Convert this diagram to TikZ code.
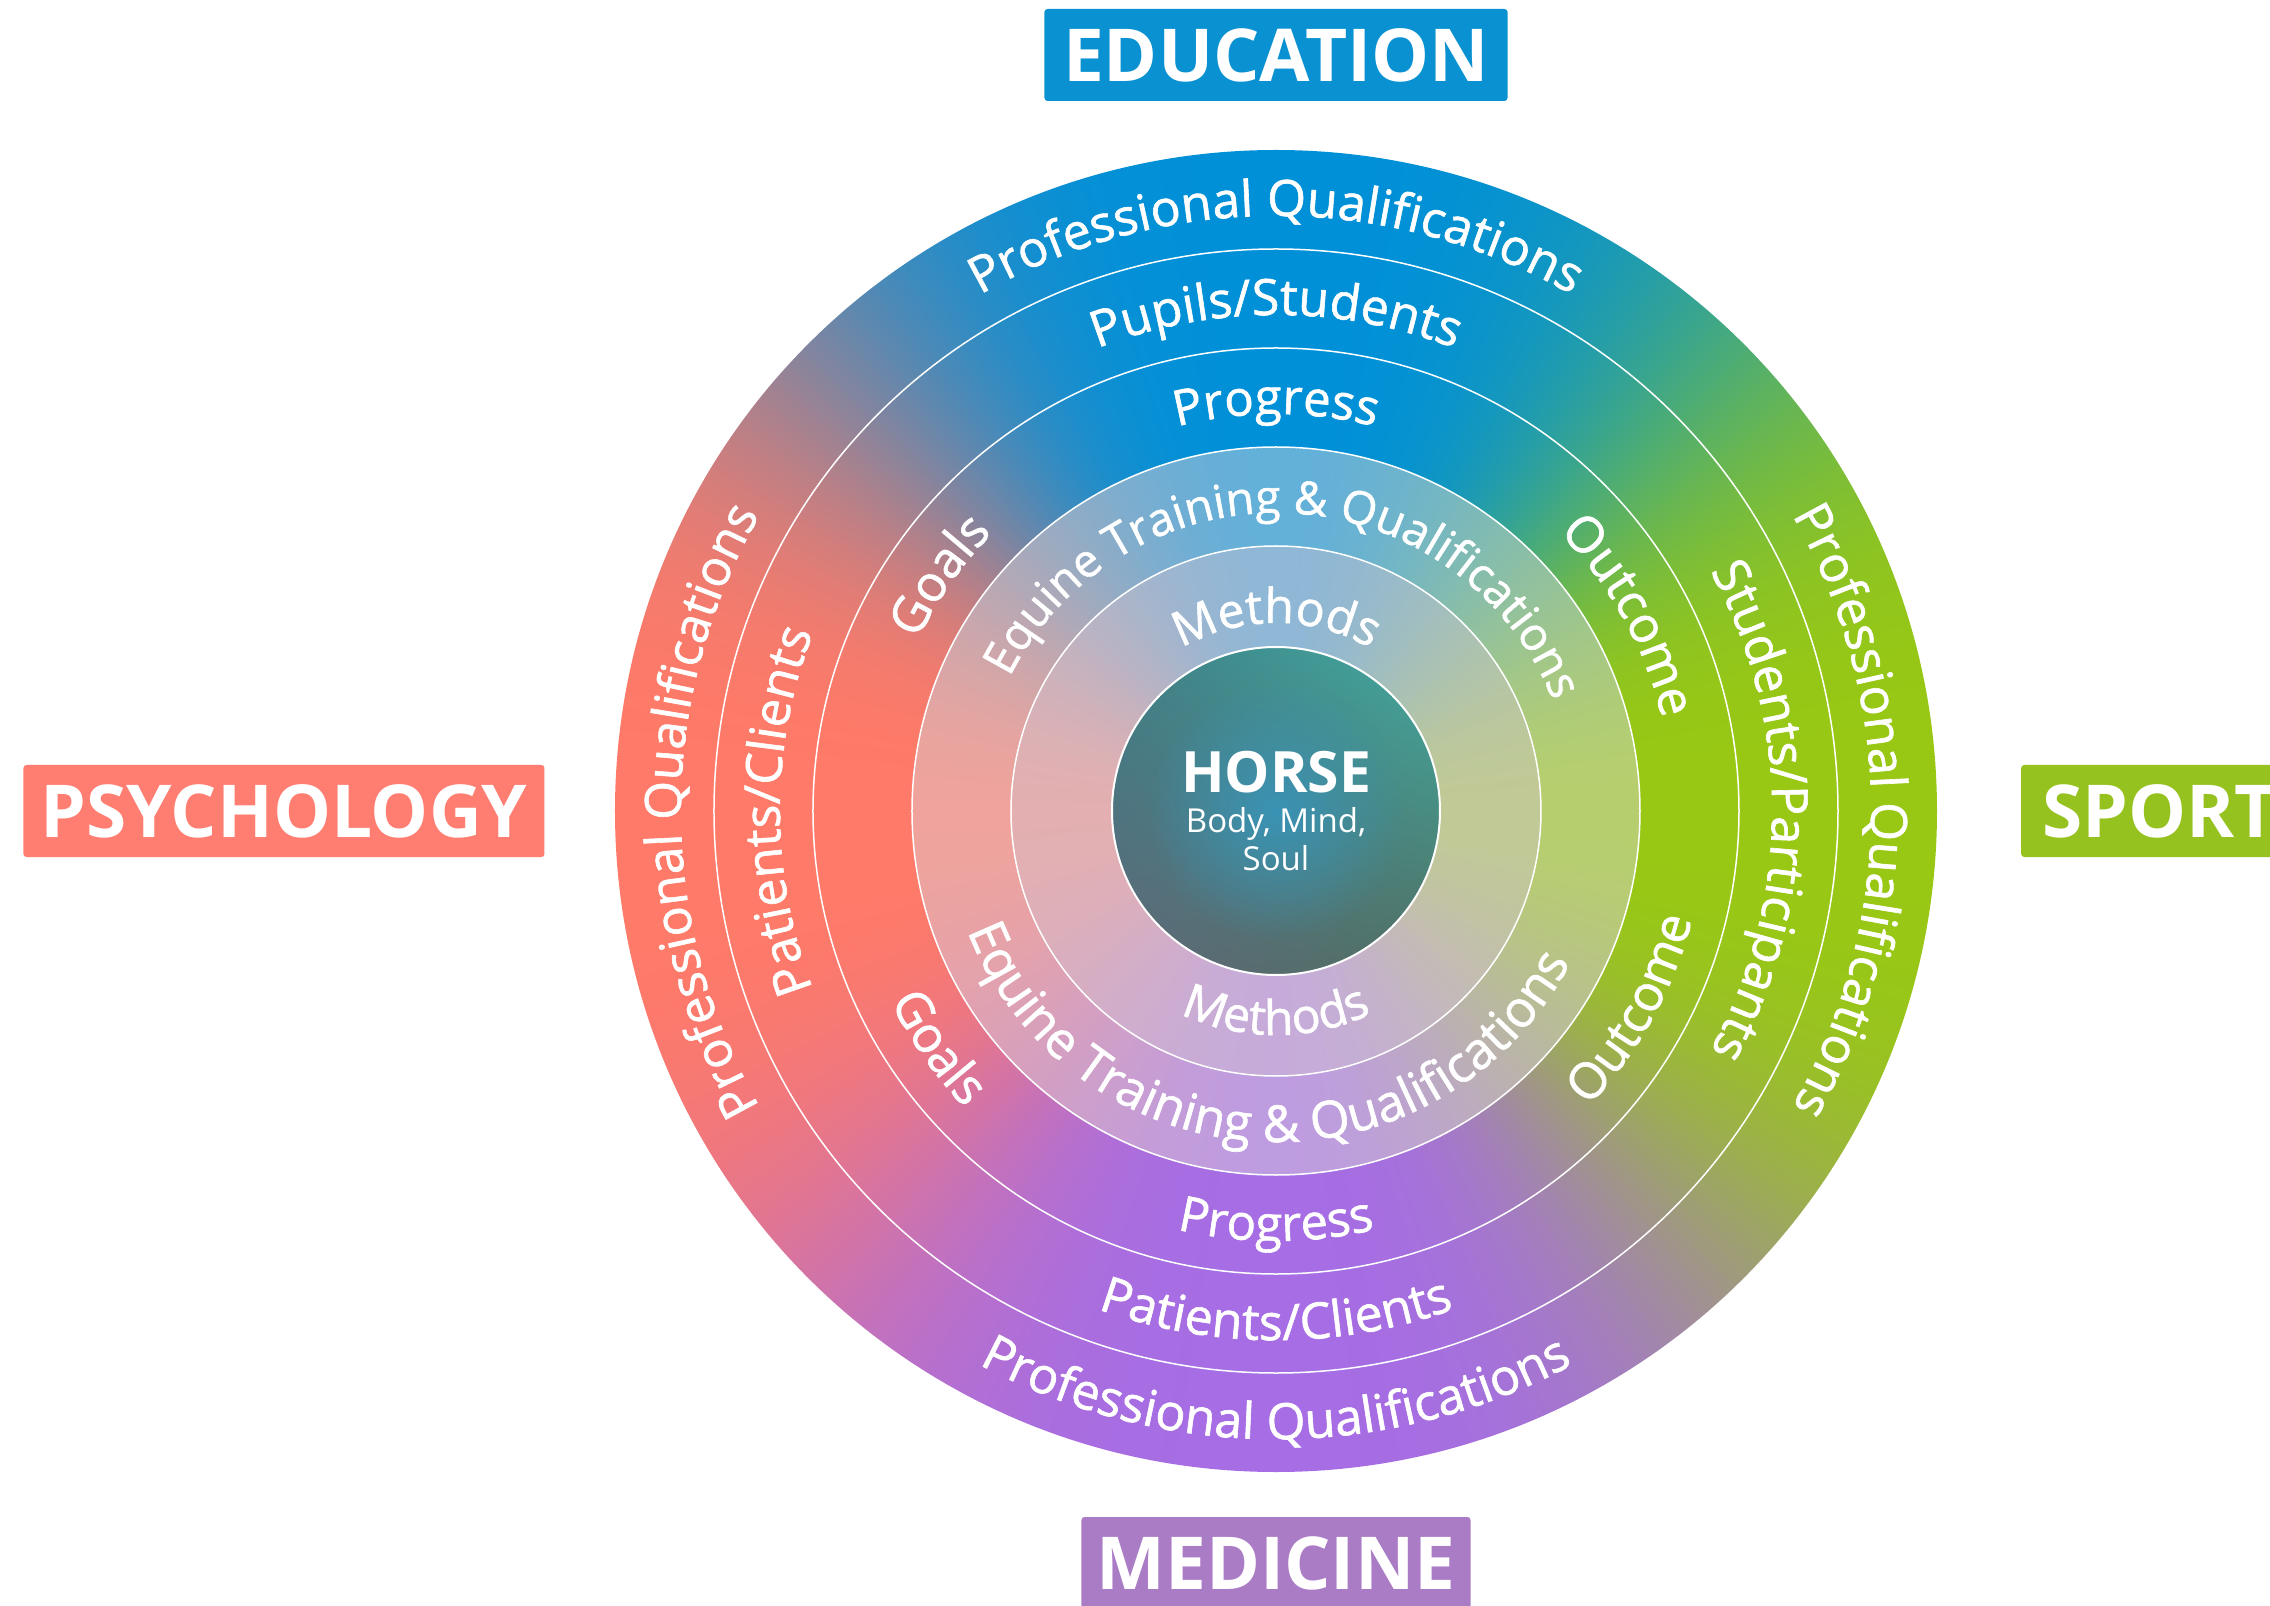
\documentclass[tikz,border=0pt]{standalone}
\usepackage{fontspec}
\usetikzlibrary{decorations.text}
\usetikzlibrary{fadings}
\usetikzlibrary{shadings}
\newfontfamily\boxfont{Open Sans}
\newfontfamily\ringfont{Open Sans}[FakeBold = 1.2]
\definecolor{educblue}{HTML}{0A91D1}
\definecolor{psychred}{HTML}{FF7D71}
\definecolor{sportgreen}{HTML}{96C21F}
\definecolor{medpurple}{HTML}{AB7CC6}
\definecolor{outermist}{HTML}{DCD7DC}
\definecolor{innermist}{HTML}{D2C3D2}
\definecolor{horseul}{HTML}{3E7F86}
\definecolor{horseur}{HTML}{42AAA0}
\definecolor{horsell}{HTML}{5F6878}
\definecolor{horselr}{HTML}{4F6F62}
\definecolor{horsemid}{HTML}{3A93B5}
% left salmon, right green, bottom purple, top blue; #2 sharpens the weights
\newcommand{\discshading}[2]{%
\pgfdeclarefunctionalshading{#1}{\pgfpointorigin}{\pgfpoint{100bp}{100bp}}{}{
  50 sub 25 div exch 50 sub 25 div
  dup dup abs add 2 div exch dup abs exch sub 2 div #2 exch #2
  3 -1 roll
  dup dup abs add 2 div exch dup abs exch sub 2 div #2 exch #2
  3 index 3 index add 2 index add 1 index add 0.00001 add
  5 1 roll
  4 index div 4 1 roll 4 index div 4 1 roll 4 index div 4 1 roll 4 index div 4 1 roll
  5 -1 roll pop
  3 index 1.0 mul 3 index 0.596 mul add 2 index 0.651 mul add 1 index 0.0 mul add
  4 index 0.478 mul 4 index 0.784 mul add 3 index 0.427 mul add 2 index 0.565 mul add
  5 index 0.408 mul 5 index 0.078 mul add 4 index 0.894 mul add 3 index 0.847 mul add
  7 3 roll pop pop pop pop
}}
\discshading{discmix}{dup dup mul mul}
\discshading{discsoft}{dup mul}
\tikzfading[name = horseglow, inner color = transparent!0, outer color = transparent!100]
\tikzset{catbox/.style = {fill, text = white, minimum height = 92pt, inner sep = 0pt,
                          rounded corners = 3pt,
                          font = \boxfont\bfseries\fontsize{73}{80}\selectfont}}
\tikzset{ringline/.style = {draw = white, line width = 1.5pt}}
\tikzset{ringtext/.style 2 args = {decorate,
                            decoration = {text along path, text align = center,
                                          text color = white,
                                          text = {|\ringfont\fontsize{#1}{60}\selectfont|#2}}}}

\begin{document}
\begin{tikzpicture}[x = 1pt, y = 1pt]
  \useasboundingbox (-1276, -795) rectangle (994, 811);
  % rings
  \shade [shading = discmix] (0, 0) circle [radius = 661];
  \shade [shading = discsoft] (0, 0) circle [radius = 364];
  \fill [outermist, opacity = 0.45] (0, 0) circle [radius = 364];
  \fill [innermist, opacity = 0.4] (0, 0) circle [radius = 265];
  \foreach \r in {265, 364, 463, 562}
    \draw [ringline] (0, 0) circle [radius = \r];
  % horse
  \shade [upper left = horseul, upper right = horseur, lower left = horsell,
          lower right = horselr] (0, 0) circle [radius = 164];
  \fill [horsemid, path fading = horseglow] (0, 0) circle [radius = 130];
  \draw [white, line width = 2pt] (0, 0) circle [radius = 164];
  \node [anchor = base, text = white, font = \boxfont\bfseries\fontsize{57}{60}\selectfont]
    (horse) at (0, 18) {HORSE};
  \node [anchor = north, align = center, text = white, inner sep = 0pt,
         font = \boxfont\fontsize{33}{38}\selectfont]
    (horsesub) at (0, 4) {Body, Mind,\\Soul};
  % outer ring
  \path [ringtext = {50}{Professional Qualifications}] (160:595) arc [start angle = 160, end angle = 20, radius = 595];
  \path [ringtext = {50}{Professional Qualifications}] (250:595) arc [start angle = 250, end angle = 110, radius = 595];
  \path [ringtext = {50}{Professional Qualifications}] (70:595) arc [start angle = 70, end angle = -70, radius = 595];
  \path [ringtext = {50}{Professional Qualifications}] (200:628) arc [start angle = 200, end angle = 340, radius = 628];
  % second ring
  \path [ringtext = {50}{Pupils/Students}] (160:496) arc [start angle = 160, end angle = 20, radius = 496];
  \path [ringtext = {50}{Patients/Clients}] (250:496) arc [start angle = 250, end angle = 110, radius = 496];
  \path [ringtext = {50}{Students/Participants}] (70:496) arc [start angle = 70, end angle = -70, radius = 496];
  \path [ringtext = {50}{Patients/Clients}] (200:529) arc [start angle = 200, end angle = 340, radius = 529];
  % third ring
  \path [ringtext = {49}{Progress}] (130:397) arc [start angle = 130, end angle = 50, radius = 397];
  \path [ringtext = {49}{Progress}] (230:430) arc [start angle = 230, end angle = 310, radius = 430];
  \path [ringtext = {50}{Goals}] (185:397) arc [start angle = 185, end angle = 105, radius = 397];
  \path [ringtext = {50}{Goals}] (175:430) arc [start angle = 175, end angle = 255, radius = 430];
  \path [ringtext = {50}{Outcome}] (79:397) arc [start angle = 79, end angle = -21, radius = 397];
  \path [ringtext = {50}{Outcome}] (-79:430) arc [start angle = -79, end angle = 21, radius = 430];
  % fourth ring
  \path [ringtext = {46}{Equine Training {\&} Qualifications}] (177.5:298) arc [start angle = 177.5, end angle = -2.5, radius = 298];
  \path [ringtext = {51}{Equine Training {\&} Qualifications}] (177:331) arc [start angle = 177, end angle = 357, radius = 331];
  % fifth ring
  \path [ringtext = {48}{Methods}] (150:188) arc [start angle = 150, end angle = 30, radius = 188];
  \path [ringtext = {48}{Methods}] (210:224) arc [start angle = 210, end angle = 330, radius = 224];
  % fields
  \node [catbox, fill = educblue, minimum width = 463pt] (education) at (0, 756) {EDUCATION};
  \node [catbox, fill = psychred, minimum width = 521pt] (psychology) at (-992, 0) {PSYCHOLOGY};
  \node [catbox, fill = sportgreen, anchor = west, inner xsep = 21pt] (sport) at (745, 0) {SPORT};
  \node [catbox, fill = medpurple, minimum width = 389pt] (medicine) at (0, -752) {MEDICINE};
\end{tikzpicture}
\end{document}
